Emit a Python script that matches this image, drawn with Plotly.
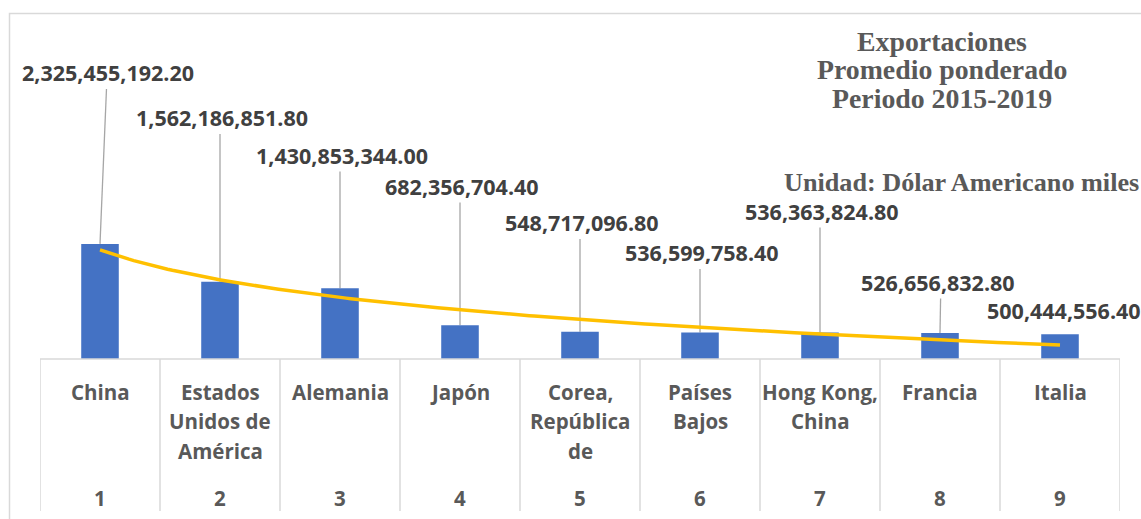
import numpy as np
import plotly.graph_objects as go

# ---------------- data ----------------
rank = [1, 2, 3, 4, 5, 6, 7, 8, 9]
countries = ["China", "Estados<br>Unidos de<br>América", "Alemania", "Japón",
             "Corea,<br>República<br>de", "Países<br>Bajos", "Hong Kong,<br>China",
             "Francia", "Italia"]
exports = [2325455192.20, 1562186851.80, 1430853344.00, 682356704.40,
           548717096.80, 536599758.40, 536363824.80, 526656832.80, 500444556.40]
title_lines = ["Exportaciones", "Promedio ponderado", "Periodo 2015-2019"]
unit_line = "Unidad: Dólar Americano miles"

# ---------------- layout constants (pixels) ----------------
W, H = 1141, 519
ML, MR, MT, MB = 40, 21, 19, 160
PLOT_H = H - MT - MB
PLOT_BOTTOM = H - MB
PX_PER_UNIT = 0.0495e-6
YMAX = PLOT_H / PX_PER_UNIT

def py(p):
    """pixel row -> paper y"""
    return (PLOT_BOTTOM - p) / PLOT_H

def pxx(p):
    """pixel column -> paper x"""
    return (p - ML) / (W - ML - MR)

# label placement (style): centre row in pixels and x offset in category units
label_row = [72.5, 117.5, 155, 186, 222.5, 252.5, 211, 282, 310.5]
label_dx = [0.07, 0.02, 0.02, 0.02, 0.02, 0.02, 0.02, -0.02, 0.03]
leader_top_dx = [0.054, 0, 0, 0, 0, 0, 0, 0.005, None]

LABEL_FONT = dict(family="Open Sans", size=21.5, color="#404040")
CAT_FONT = dict(family="Open Sans", size=20.5, color="#595959")
TITLE_FONT = dict(family="Liberation Serif", size=27.8, color="#595959")
UNIT_FONT = dict(family="Liberation Serif", size=26.2, color="#595959")

fig = go.Figure()
fig.add_trace(go.Bar(x=rank, y=exports, width=0.313,
                     marker=dict(color="#4472C4", line=dict(width=0)),
                     hoverinfo="skip"))

# logarithmic trendline (least squares on ln x)
b, a = np.polyfit(np.log(rank), exports, 1)
xt = np.linspace(rank[0], rank[-1], 200)
fig.add_trace(go.Scatter(x=xt, y=a + b * np.log(xt), mode="lines",
                         line=dict(color="#FFC000", width=3.5), hoverinfo="skip"))

shapes = []
annotations = []

# data labels + leader lines
for i, (r, v) in enumerate(zip(rank, exports)):
    annotations.append(dict(x=r + label_dx[i], xref="x", y=py(label_row[i]), yref="paper",
                            text="<b>{:,.2f}</b>".format(v), showarrow=False,
                            font=LABEL_FONT, xanchor="center", yanchor="middle"))
    if leader_top_dx[i] is not None:
        y_top_val = (PLOT_BOTTOM - (label_row[i] + 16.5)) / PX_PER_UNIT
        shapes.append(dict(type="line", xref="x", yref="y",
                           x0=r + leader_top_dx[i], y0=y_top_val, x1=r, y1=v,
                           line=dict(color="#A6A6A6", width=1.3), layer="below"))

# category table grid
for k in range(len(rank) + 1):
    xb = rank[0] - 0.5 + k
    shapes.append(dict(type="line", xref="x", yref="paper", x0=xb, x1=xb,
                       y0=0, y1=py(511), line=dict(color="#D9D9D9", width=1.5)))
shapes.append(dict(type="line", xref="x", yref="paper", x0=0.5, x1=9.5, y0=0, y1=0,
                   line=dict(color="#D9D9D9", width=1.5)))

# category labels
for r, name in zip(rank, countries):
    for j, line in enumerate(name.split("<br>")):
        annotations.append(dict(x=r, xref="x", y=py(391.7 + 29.5 * j), yref="paper",
                                text="<b>%s</b>" % line, showarrow=False, font=CAT_FONT,
                                xanchor="center", yanchor="middle"))
    annotations.append(dict(x=r, xref="x", y=py(498), yref="paper",
                            text="<b>%d</b>" % r, showarrow=False, font=CAT_FONT,
                            xanchor="center", yanchor="middle"))

# chart border
shapes.append(dict(type="rect", xref="paper", yref="paper",
                   x0=pxx(9.5), x1=pxx(1160), y0=py(13.5), y1=py(540),
                   line=dict(color="#D9D9D9", width=1.5), fillcolor="rgba(0,0,0,0)"))

# title block
for j, t in enumerate(title_lines):
    annotations.append(dict(x=pxx(942), xref="paper", y=py(41 + 28.7 * j), yref="paper",
                            text="<b>%s</b>" % t, showarrow=False, font=TITLE_FONT,
                            xanchor="center", yanchor="middle"))
annotations.append(dict(x=pxx(1141), xref="paper", y=py(183), yref="paper",
                        text="<b>%s</b>" % unit_line, showarrow=False, font=UNIT_FONT,
                        xanchor="right", yanchor="middle"))

fig.update_layout(
    width=W, height=H, margin=dict(l=ML, r=MR, t=MT, b=MB),
    paper_bgcolor="white", plot_bgcolor="white", showlegend=False,
    xaxis=dict(range=[0.5, 9.5], showticklabels=False, showgrid=False,
               zeroline=False, showline=False, ticks=""),
    yaxis=dict(range=[0, YMAX], visible=False),
    shapes=shapes, annotations=annotations,
)

fig.write_html("out.html", config={"displayModeBar": False},
               post_script="document.body.style.margin='0';"
                           "document.body.style.overflow='hidden';")
